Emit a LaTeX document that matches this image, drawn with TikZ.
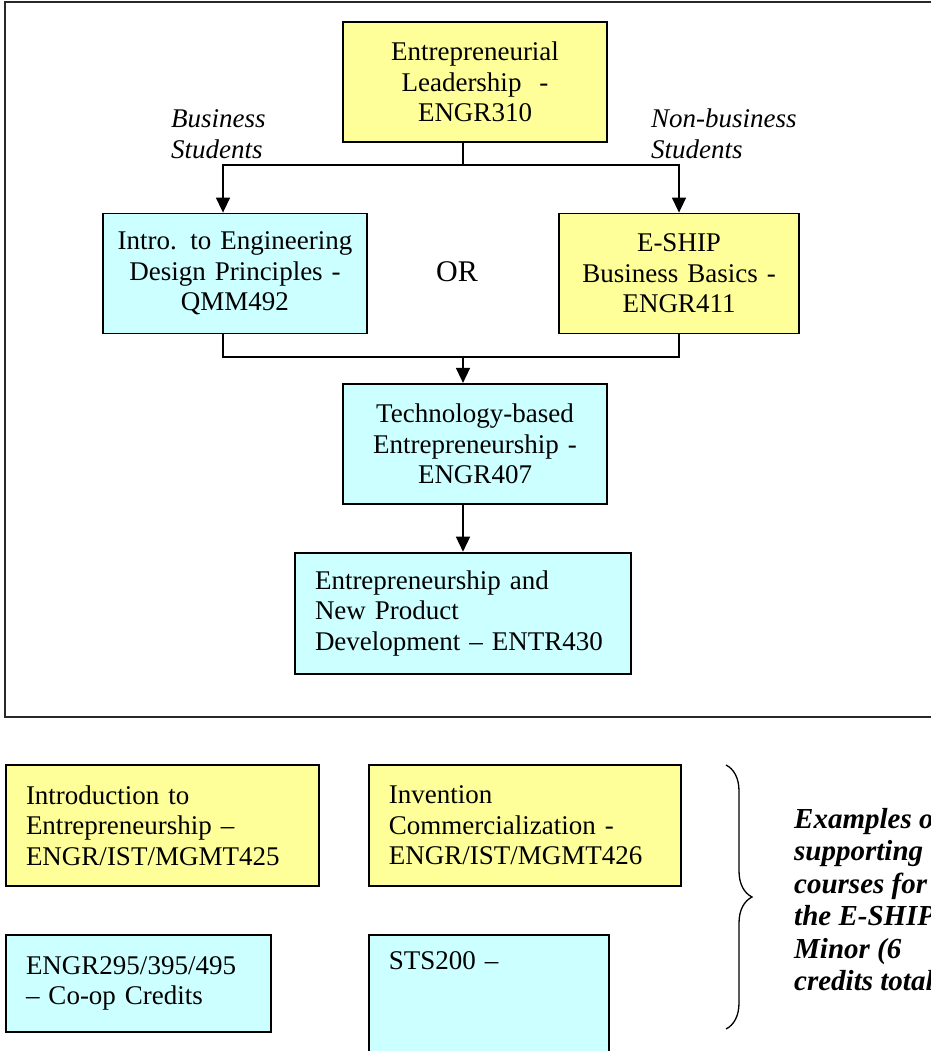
\documentclass[tikz,border=0pt]{standalone}
\usepackage{fontspec}
\setmainfont{Liberation Serif}
\usepackage{xcolor}
\definecolor{amarelo}{RGB}{255,255,153}
\definecolor{ciano}{RGB}{204,255,255}
\definecolor{cinza}{RGB}{40,40,40}
\usepackage{tikz}
\usetikzlibrary{arrows.meta,positioning,calc,decorations.pathreplacing}

\begin{document}
\begin{tikzpicture}[x=1pt,y=1pt,
            curso/.style={draw=black,line width=1.8pt,inner xsep=10pt,inner ysep=0pt,
              minimum height=120pt,align=center,
            font=\fontsize{27}{30.5}\selectfont},
            apoio/.style={curso,align=left,inner xsep=20pt},
            nota/.style={inner sep=0pt,align=left,
            font=\fontsize{27}{31}\selectfont\itshape},
            liga/.style={line width=1.5pt},
            seta/.style={-{Triangle[length=15pt,width=14pt]},line width=1.5pt}
            ]
            \useasboundingbox (0,0) rectangle (930,-1051);
            \draw[line width=2pt,cinza] (5,-2) rectangle (960,-717);

            \node[curso,fill=amarelo,text width=244pt] (lider) at (475,-82)
            {Entrepreneurial\\Leadership\ \ -\\ENGR310};
            \node[curso,fill=ciano,text width=244pt] (design) at (235,-273.5)
            {Intro. to Engineering\\Design Principles -\\QMM492};
            \node[curso,fill=amarelo,text width=220pt] (eship) at (679,-273.5)
            {E-SHIP\\Business Basics -\\ENGR411};
            \node[font=\fontsize{30}{34}\selectfont] (ou) at (457,-271.5) {OR};
            \node[nota,anchor=north west] (neg) at (171,-109) {Business\\Students};
            \node[nota,anchor=north west] (nneg) at (651,-109) {Non-business\\Students};
            \node[curso,fill=ciano,text width=244pt,below=240pt of lider] (tecno)
            {Technology-based\\Entrepreneurship -\\ENGR407};
            \node[apoio,fill=ciano,text width=296pt,minimum height=121pt,
            below=47pt of tecno,xshift=-12pt]        (produto)
            {Entrepreneurship and\\New Product\\Development – ENTR430};

            \coordinate (div) at (463,-165);
            \coordinate (junta) at (463,-357);
            \draw[liga] (lider.south -| div) -- (div);
            \draw[seta] (div) -| ([xshift=-12pt]design.north);
            \draw[seta] (div) -| (eship.north);
            \draw[liga] ([xshift=-12pt]design.south) |- (junta) -| (eship.south);
            \draw[seta] (junta) -- (tecno.north -| junta);
            \draw[seta] (tecno.south -| junta) -- (produto.north);

            \node[apoio,fill=amarelo,text width=273pt,minimum height=121pt] (intro) at (162.5,-825.5)
            {Introduction to\\Entrepreneurship –\\ENGR/IST/MGMT425};
            \node[apoio,fill=amarelo,text width=272pt,minimum height=121pt,
            right=48pt of intro]                     (invent)
            {Invention\\Commercialization -\\ENGR/IST/MGMT426};
            \node[apoio,fill=ciano,text width=225pt,minimum height=97pt,
            below right=47pt and 0pt of intro.south west] (coop)
            {ENGR295/395/495\\– Co-op Credits};
            \node[apoio,fill=ciano,text width=200pt,inner ysep=17pt,text depth=150pt,
            below right=47pt and 0pt of invent.south west] (sts) {STS200 –};

            \draw[line width=1.3pt,decorate,decoration={brace,amplitude=26pt}]
            (726,-765) -- (726,-1029);
            \node[nota,font=\fontsize{29}{32.5}\selectfont\bfseries\itshape,
            anchor=north west]                      (exemplos) at (794,-807.5)
            {Examples of\\supporting\\courses for\\the E-SHIP\\Minor (6\\credits total)};
          \end{tikzpicture}
\end{document}
